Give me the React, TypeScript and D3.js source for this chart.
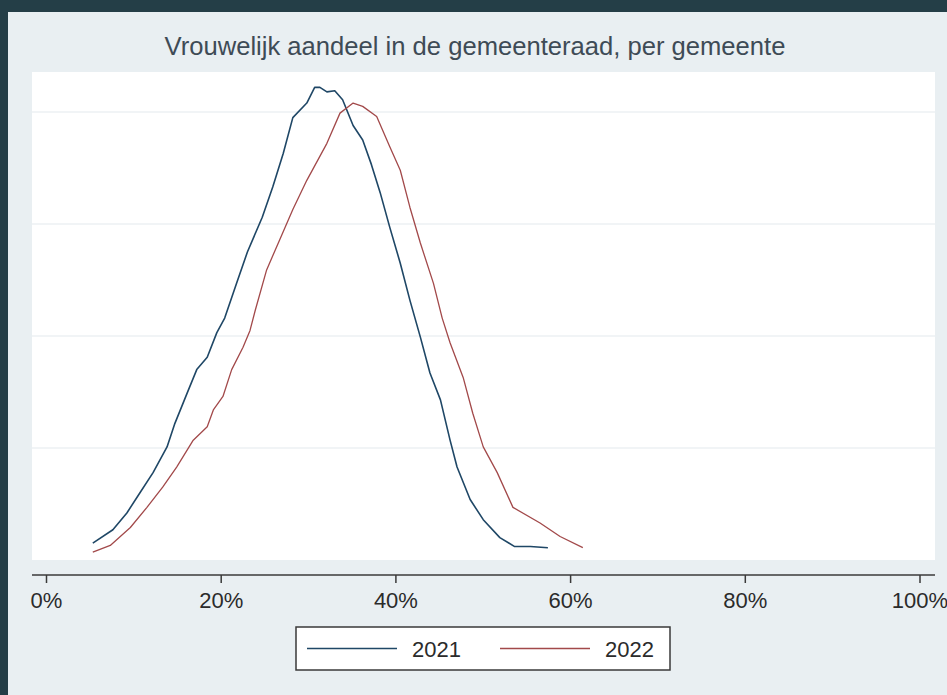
import { useMemo } from "react";
import * as d3 from "d3";

// share of women in council (%) vs kernel density
const pct2021 = [5.3, 7.6, 9.2, 10.7, 12.2, 13.8, 14.7, 16.1, 17.2, 18.4, 19.5, 20.4, 21.8, 23.0, 24.7, 25.9, 27.1, 28.2, 29.8, 30.7, 31.3, 32.1, 33.0, 33.9, 35.1, 36.2, 37.2, 38.2, 39.3, 40.5, 41.6, 42.8, 43.9, 45.1, 46.2, 47.0, 48.5, 50.0, 51.9, 53.6, 55.4, 57.4];
const dens2021 = [0.15, 0.27, 0.42, 0.6, 0.78, 1.01, 1.22, 1.49, 1.7, 1.81, 2.03, 2.16, 2.48, 2.75, 3.06, 3.33, 3.63, 3.95, 4.08, 4.22, 4.22, 4.18, 4.19, 4.11, 3.88, 3.75, 3.53, 3.28, 2.97, 2.65, 2.32, 1.99, 1.67, 1.43, 1.07, 0.83, 0.54, 0.36, 0.2, 0.12, 0.12, 0.11];

const pct2022 = [5.3, 7.3, 9.6, 11.5, 13.3, 14.9, 16.8, 18.4, 19.1, 20.2, 21.2, 22.5, 23.3, 23.9, 25.2, 26.7, 28.2, 29.8, 32.1, 33.6, 35.1, 36.2, 37.8, 39.3, 40.5, 41.6, 42.8, 44.3, 45.3, 46.2, 47.7, 48.8, 50.0, 51.6, 53.4, 56.5, 58.8, 61.4];
const dens2022 = [0.07, 0.13, 0.29, 0.47, 0.65, 0.83, 1.07, 1.19, 1.34, 1.46, 1.7, 1.9, 2.05, 2.23, 2.59, 2.86, 3.13, 3.39, 3.72, 3.99, 4.08, 4.05, 3.96, 3.69, 3.48, 3.15, 2.83, 2.47, 2.16, 1.94, 1.63, 1.31, 1.01, 0.78, 0.47, 0.33, 0.21, 0.11];

const xTicks = [0, 20, 40, 60, 80, 100];
const yGrid = [1, 2, 3, 4];
const seriesNames = ["2021", "2022"];
const seriesColors = ["#1f4766", "#a2494a"];

const W = 947;
const H = 695;
const font = "'Liberation Sans', Arial, Helvetica, sans-serif";

export default function App() {
  const plot = { left: 32, right: 935, top: 72, bottom: 560 };

  const x = useMemo(() => d3.scaleLinear().domain([0, 100]).range([46.5, 920]), []);
  const y = useMemo(() => d3.scaleLinear().domain([0, 4]).range([560, 112]), []);

  const line = d3
    .line<[number, number]>()
    .x(d => x(d[0]))
    .y(d => y(d[1]));

  const series = [
    d3.zip(pct2021, dens2021) as [number, number][],
    d3.zip(pct2022, dens2022) as [number, number][]
  ];

  const legend = { x: 296, y: 627, w: 374, h: 43 };

  return (
    <div style={{ position: "absolute", left: 0, top: 0 }}>
      <svg width={W} height={H} style={{ display: "block" }}>
        <rect x={0} y={0} width={W} height={H} fill="#243e47" />
        <rect x={8} y={12} width={W - 8} height={H - 12} fill="#e9eff2" />

        <text
          x={475}
          y={55}
          textAnchor="middle"
          fontFamily={font}
          fontSize={25.6}
          fill="#3e4b56"
        >
          Vrouwelijk aandeel in de gemeenteraad, per gemeente
        </text>

        <rect
          x={plot.left}
          y={plot.top}
          width={plot.right - plot.left}
          height={plot.bottom - plot.top}
          fill="#ffffff"
        />
        {yGrid.map(v => (
          <line
            key={v}
            x1={plot.left}
            x2={plot.right}
            y1={y(v)}
            y2={y(v)}
            stroke="#edf1f3"
            strokeWidth={1.5}
          />
        ))}

        {series.map((pts, i) => (
          <path
            key={seriesNames[i]}
            d={line(pts) ?? ""}
            fill="none"
            stroke={seriesColors[i]}
            strokeWidth={i === 0 ? 1.6 : 1.3}
            strokeLinejoin="round"
          />
        ))}

        {/* x axis */}
        <line x1={plot.left} x2={plot.right} y1={575} y2={575} stroke="#3a3a3a" strokeWidth={1.5} />
        {xTicks.map(t => (
          <g key={t} transform={`translate(${x(t)},0)`}>
            <line y1={575} y2={583} stroke="#3a3a3a" strokeWidth={1.5} />
            <text
              y={608}
              textAnchor="middle"
              fontFamily={font}
              fontSize={22}
              fill="#2b2b2b"
            >
              {t}%
            </text>
          </g>
        ))}

        {/* legend */}
        <rect
          x={legend.x}
          y={legend.y}
          width={legend.w}
          height={legend.h}
          fill="#ffffff"
          stroke="#3a3a3a"
          strokeWidth={1.5}
        />
        {seriesNames.map((name, i) => {
          const ox = legend.x + 11 + i * 193;
          const cy = legend.y + legend.h / 2;
          return (
            <g key={name}>
              <line x1={ox} x2={ox + 90} y1={cy} y2={cy} stroke={seriesColors[i]} strokeWidth={1.5} />
              <text x={ox + 105} y={cy + 8} fontFamily={font} fontSize={22} fill="#2b2b2b">
                {name}
              </text>
            </g>
          );
        })}
      </svg>
    </div>
  );
}
